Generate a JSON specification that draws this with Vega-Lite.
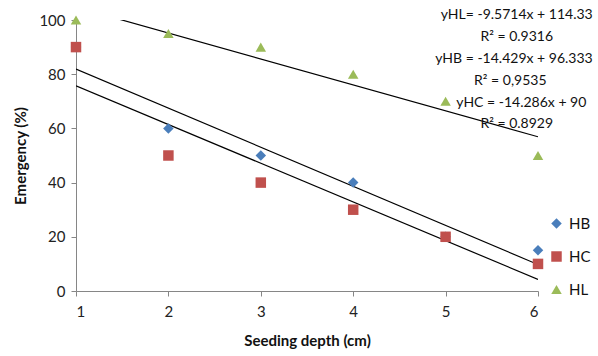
{
  "$schema": "https://vega.github.io/schema/vega-lite/v6.json",
  "autosize": "none",
  "width": 462,
  "height": 271,
  "padding": {"left": 76, "top": 20, "right": 60, "bottom": 65},
  "background": "white",
  "config": {
    "view": {"stroke": null},
    "font": "Lato",
    "axis": {
      "grid": false,
      "domainColor": "#868686",
      "tickColor": "#868686",
      "tickSize": 5,
      "labelFontSize": 15,
      "labelColor": "#222222",
      "titleFontSize": 15,
      "titleFontWeight": "bold",
      "titleColor": "#111111"
    }
  },
  "datasets": {
    "pts": [
      {"depth": 1, "emergency": 90, "series": "HB"},
      {"depth": 2, "emergency": 60, "series": "HB"},
      {"depth": 3, "emergency": 50, "series": "HB"},
      {"depth": 4, "emergency": 40, "series": "HB"},
      {"depth": 5, "emergency": 20, "series": "HB"},
      {"depth": 6, "emergency": 15, "series": "HB"},
      {"depth": 1, "emergency": 90, "series": "HC"},
      {"depth": 2, "emergency": 50, "series": "HC"},
      {"depth": 3, "emergency": 40, "series": "HC"},
      {"depth": 4, "emergency": 30, "series": "HC"},
      {"depth": 5, "emergency": 20, "series": "HC"},
      {"depth": 6, "emergency": 10, "series": "HC"},
      {"depth": 1, "emergency": 100, "series": "HL"},
      {"depth": 2, "emergency": 95, "series": "HL"},
      {"depth": 3, "emergency": 90, "series": "HL"},
      {"depth": 4, "emergency": 80, "series": "HL"},
      {"depth": 5, "emergency": 70, "series": "HL"},
      {"depth": 6, "emergency": 50, "series": "HL"}
    ],
    "notes": [
      {"label": "yHL= -9.5714x + 114.33", "depth": 5.77, "emergency": 101.8},
      {"label": "R² = 0.9316", "depth": 5.77, "emergency": 93.7},
      {"label": "yHB = -14.429x + 96.333", "depth": 5.74, "emergency": 85.6},
      {"label": "R² = 0,9535", "depth": 5.70, "emergency": 77.5},
      {"label": "yHC = -14.286x + 90", "depth": 5.82, "emergency": 69.4},
      {"label": "R² = 0.8929", "depth": 5.77, "emergency": 61.6}
    ]
  },
  "encoding": {
    "x": {
      "field": "depth", "type": "quantitative",
      "scale": {"domain": [1, 6], "nice": false, "zero": false},
      "axis": {"values": [1, 2, 3, 4, 5, 6], "format": "d", "title": "Seeding depth (cm)", "labelPadding": 8, "titlePadding": 14}
    },
    "y": {
      "field": "emergency", "type": "quantitative",
      "scale": {"domain": [0, 100], "nice": false, "zero": true},
      "axis": {"values": [0, 20, 40, 60, 80, 100], "format": "d", "title": "Emergency (%)", "labelPadding": 6, "titlePadding": 10}
    }
  },
  "layer": [
    {
      "data": {"name": "pts"},
      "transform": [
        {"regression": "emergency", "on": "depth", "groupby": ["series"], "extent": [1, 6]}
      ],
      "mark": {"type": "line", "color": "black", "strokeWidth": 1.2, "clip": true},
      "encoding": {
        "detail": {"field": "series"}
      }
    },
    {
      "data": {"name": "pts"},
      "mark": {"type": "point", "filled": true, "opacity": 1, "size": 110, "clip": false},
      "encoding": {
        "color": {
          "field": "series", "type": "nominal",
          "scale": {"domain": ["HB", "HC", "HL"], "range": ["#4A7EBB", "#C0504D", "#9BBB59"]},
          "legend": {
            "title": null, "orient": "none", "legendX": 473, "legendY": 196,
            "labelFontSize": 15, "labelColor": "#111111", "symbolSize": 110, "rowPadding": 17, "labelOffset": 5,
            "symbolOpacity": 1
          }
        },
        "shape": {
          "field": "series", "type": "nominal",
          "scale": {"domain": ["HB", "HC", "HL"], "range": ["diamond", "square", "triangle-up"]},
          "legend": null
        }
      }
    },
    {
      "data": {"name": "notes"},
      "mark": {"type": "text", "fontSize": 14, "color": "#111111", "align": "center", "baseline": "middle", "clip": false},
      "encoding": {
        "text": {"field": "label"}
      }
    }
  ]
}
